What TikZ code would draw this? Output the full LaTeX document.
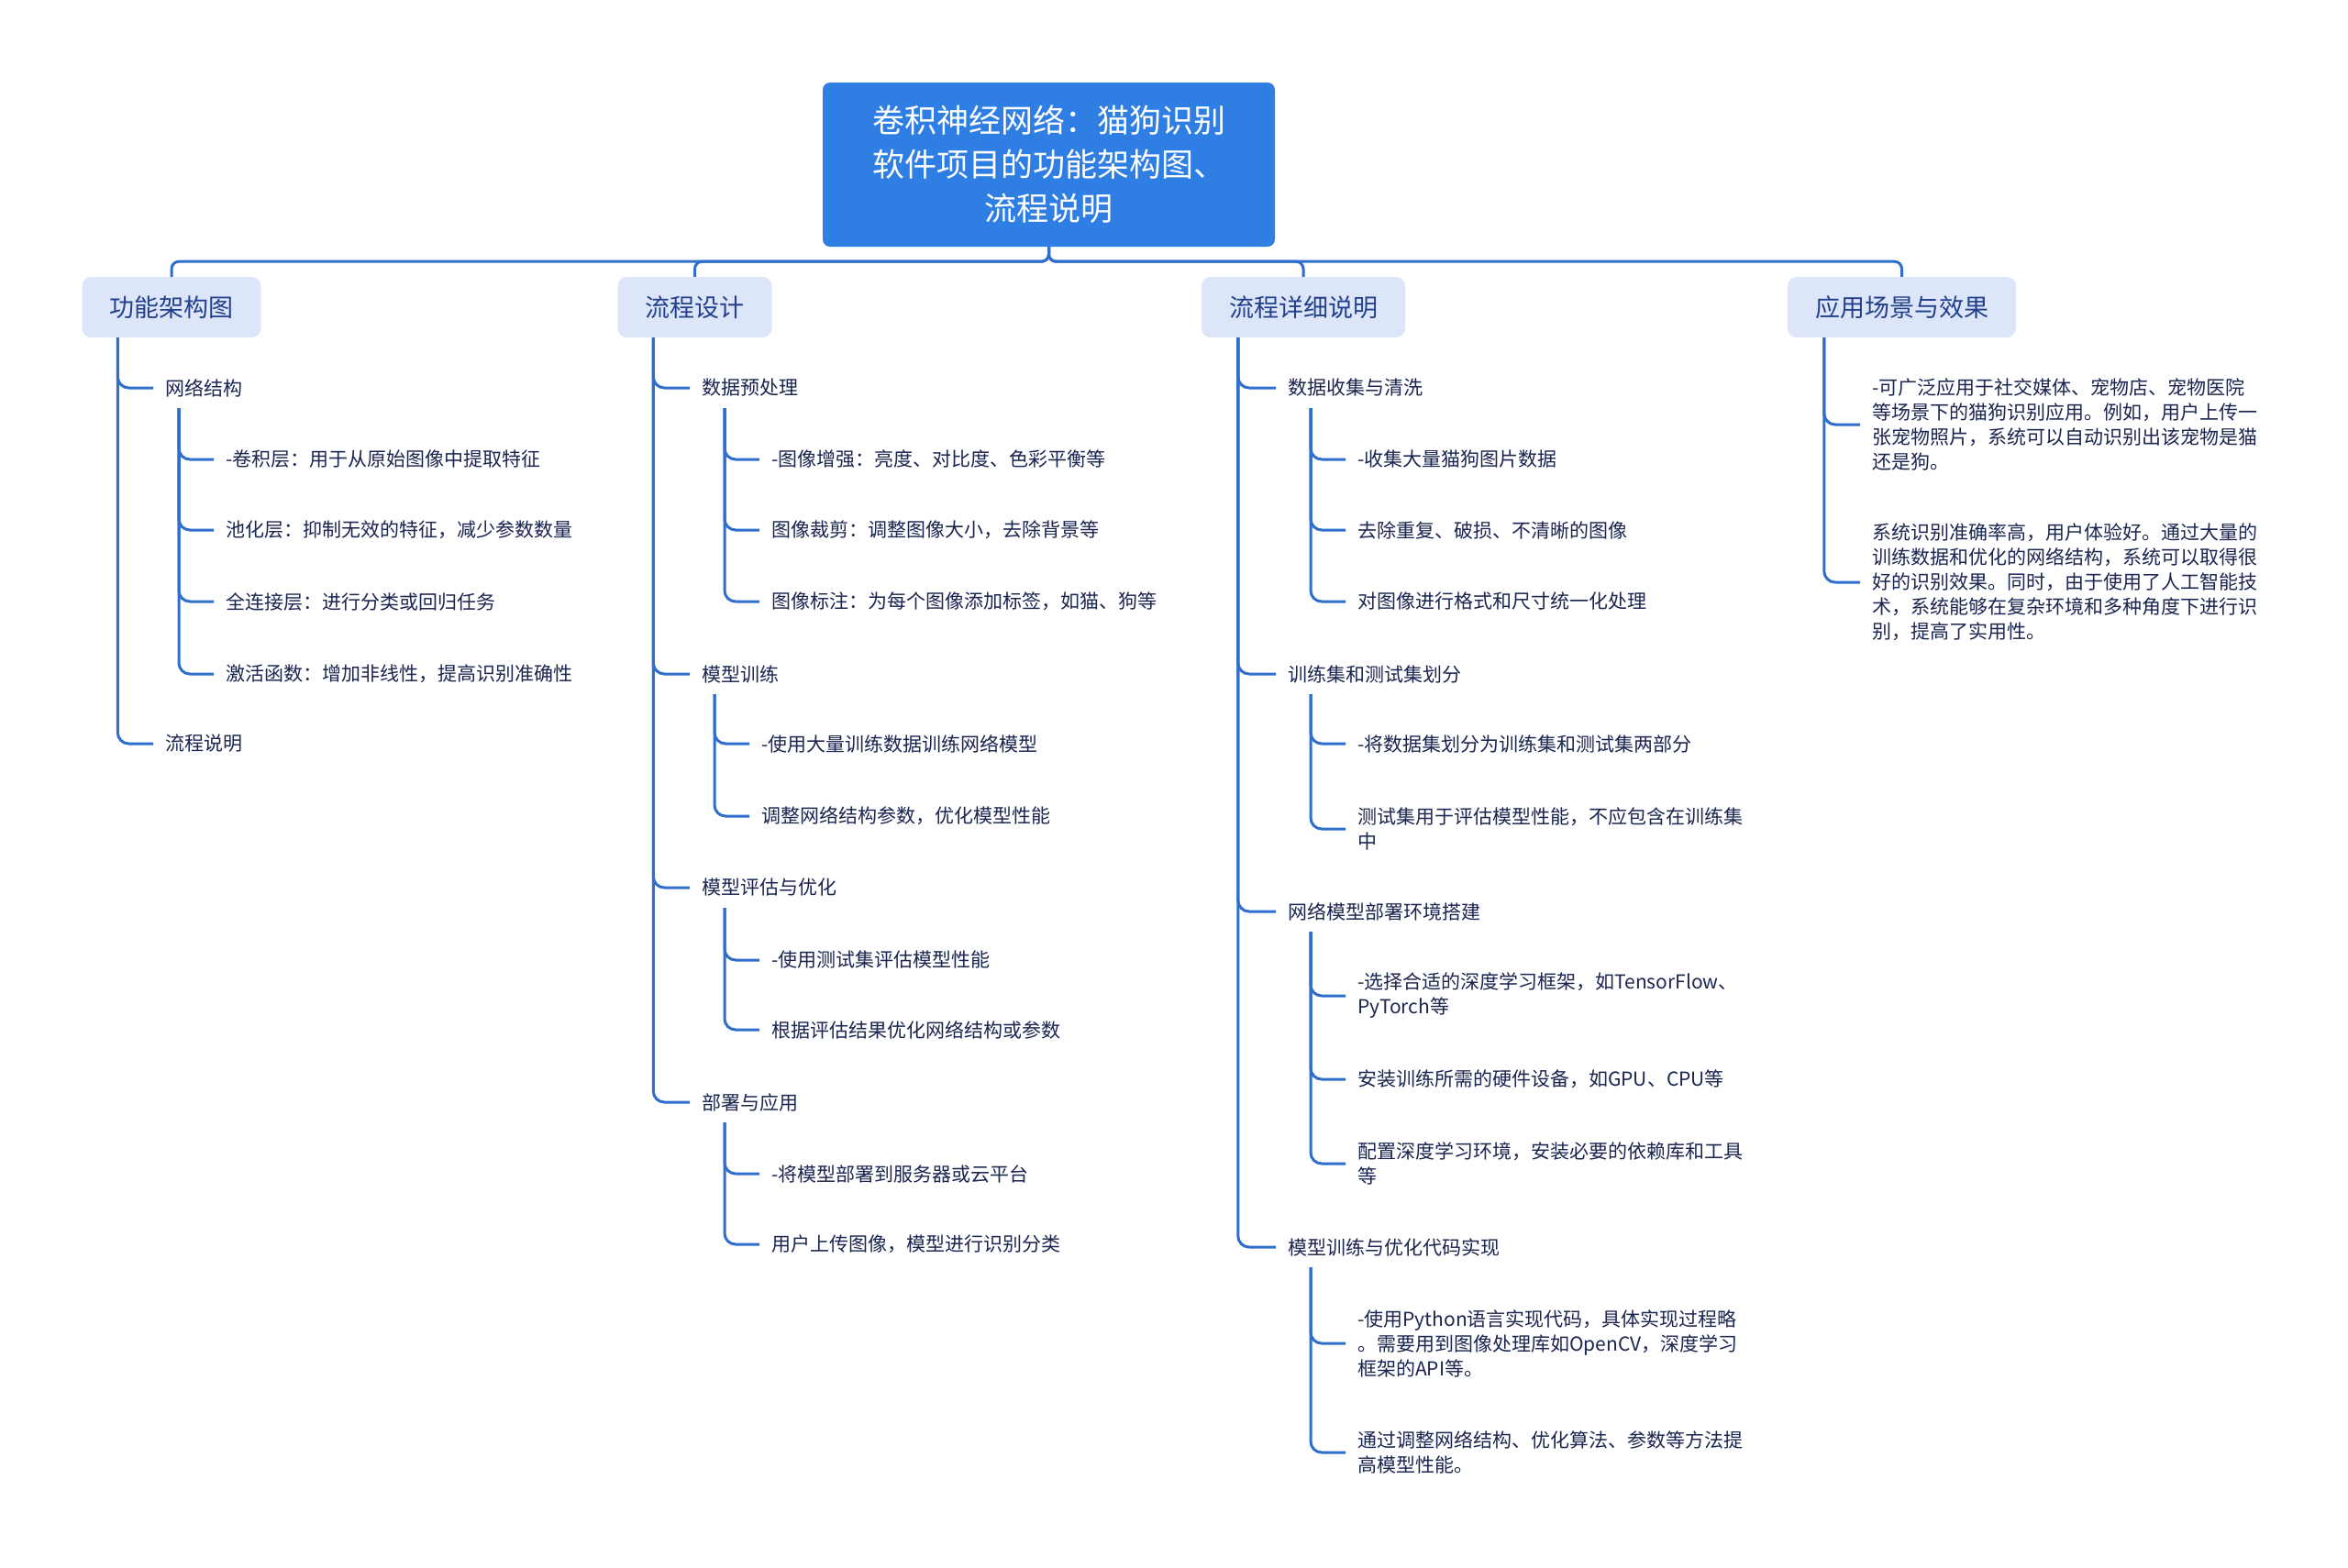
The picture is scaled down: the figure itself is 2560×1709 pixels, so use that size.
\documentclass[tikz,border=0pt]{standalone}
\usepackage{fontspec}
\setmainfont{Noto Sans CJK SC}
\usetikzlibrary{positioning,calc}

\definecolor{rootblue}{HTML}{2F7EE3}
\definecolor{linkblue}{HTML}{2F6ECB}
\definecolor{headfill}{HTML}{DDE6F8}
\definecolor{headtext}{HTML}{22408C}
\definecolor{itemtext}{HTML}{1A2550}

\begin{document}
\begin{tikzpicture}[
  x=1pt, y=-1pt,
  root/.style={fill=rootblue, rounded corners=8pt, minimum width=493pt, minimum height=179pt,
    align=center, text=white, font=\fontsize{35pt}{48pt}\selectfont},
  head/.style={fill=headfill, rounded corners=10pt, minimum height=66pt, inner xsep=30pt,
    text=headtext, font=\fontsize{27pt}{32pt}\selectfont},
  item/.style={anchor=west, inner xsep=13pt, inner ysep=2pt, align=left, text=itemtext,
    font=\fontsize{21pt}{27pt}\selectfont},
  link/.style={draw=linkblue, line width=3pt, rounded corners=12pt},
  bus/.style={draw=linkblue, line width=3pt, rounded corners=8pt}
]
  \useasboundingbox[fill=white] (0,0) rectangle (2560,1709);

  % root and first level
  \node[root] (root) at (1143.5,179.5)
      {卷积神经网络：猫狗识别\\软件项目的功能架构图、\\流程说明};
  \node[head] (A) at (187,335)    {功能架构图};
  \node[head] (B) at (757.5,335)  {流程设计};
  \node[head] (C) at (1421,335)   {流程详细说明};
  \node[head] (D) at (2073.5,335) {应用场景与效果};

  \foreach \h in {A,B,C,D}
    \draw[bus] (root.south) -- ++(0,16) -| (\h.north);

  \coordinate (Atr) at ([xshift=39pt]A.south west);
  \coordinate (Btr) at ([xshift=39pt]B.south west);
  \coordinate (Ctr) at ([xshift=40pt]C.south west);
  \coordinate (Dtr) at ([xshift=40pt]D.south west);

  % 功能架构图
  \node[item] (a1) at (167,423) {网络结构};
  \node[item] (a2) at (167,811) {流程说明};
  \coordinate (a1t) at (195,445);
  \node[item] (a11) at (233,501) {-卷积层：用于从原始图像中提取特征};
  \node[item] (a12) at (233,578) {池化层：抑制无效的特征，减少参数数量};
  \node[item] (a13) at (233,656) {全连接层：进行分类或回归任务};
  \node[item] (a14) at (233,735) {激活函数：增加非线性，提高识别准确性};

  \foreach \n in {a1,a2} \draw[link] (Atr) |- (\n.west);
  \foreach \n in {a11,a12,a13,a14} \draw[link] (a1t) |- (\n.west);

  % 流程设计
  \node[item] (b1) at (752,423)  {数据预处理};
  \node[item] (b2) at (752,735)  {模型训练};
  \node[item] (b3) at (752,968)  {模型评估与优化};
  \node[item] (b4) at (752,1202) {部署与应用};
  \coordinate (b1t) at (790,445);
  \coordinate (b2t) at (779,757);
  \coordinate (b3t) at (790,990);
  \coordinate (b4t) at (790,1224);
  \node[item] (b11) at (828,501)  {-图像增强：亮度、对比度、色彩平衡等};
  \node[item] (b12) at (828,578)  {图像裁剪：调整图像大小，去除背景等};
  \node[item] (b13) at (828,656)  {图像标注：为每个图像添加标签，如猫、狗等};
  \node[item] (b21) at (817,811)  {-使用大量训练数据训练网络模型};
  \node[item] (b22) at (817,890)  {调整网络结构参数，优化模型性能};
  \node[item] (b31) at (828,1047) {-使用测试集评估模型性能};
  \node[item] (b32) at (828,1123) {根据评估结果优化网络结构或参数};
  \node[item] (b41) at (828,1280) {-将模型部署到服务器或云平台};
  \node[item] (b42) at (828,1357) {用户上传图像，模型进行识别分类};

  \foreach \n in {b1,b2,b3,b4} \draw[link] (Btr) |- (\n.west);
  \foreach \n in {b11,b12,b13} \draw[link] (b1t) |- (\n.west);
  \foreach \n in {b21,b22} \draw[link] (b2t) |- (\n.west);
  \foreach \n in {b31,b32} \draw[link] (b3t) |- (\n.west);
  \foreach \n in {b41,b42} \draw[link] (b4t) |- (\n.west);

  % 流程详细说明
  \node[item] (c1) at (1391,423)  {数据收集与清洗};
  \node[item] (c2) at (1391,735)  {训练集和测试集划分};
  \node[item] (c3) at (1391,994)  {网络模型部署环境搭建};
  \node[item] (c4) at (1391,1360) {模型训练与优化代码实现};
  \coordinate (c1t) at (1429,445);
  \coordinate (c2t) at (1429,757);
  \coordinate (c3t) at (1429,1016);
  \coordinate (c4t) at (1429,1382);
  \node[item] (c11) at (1467,501)  {-收集大量猫狗图片数据};
  \node[item] (c12) at (1467,578)  {去除重复、破损、不清晰的图像};
  \node[item] (c13) at (1467,656)  {对图像进行格式和尺寸统一化处理};
  \node[item] (c21) at (1467,811)  {-将数据集划分为训练集和测试集两部分};
  \node[item] (c22) at (1467,904)  {测试集用于评估模型性能，不应包含在训练集\\中};
  \node[item] (c31) at (1467,1086) {-选择合适的深度学习框架，如TensorFlow、\\PyTorch等};
  \node[item] (c32) at (1467,1177) {安装训练所需的硬件设备，如GPU、CPU等};
  \node[item] (c33) at (1467,1269) {配置深度学习环境，安装必要的依赖库和工具\\等};
  \node[item] (c41) at (1467,1465)
      {-使用Python语言实现代码，具体实现过程略\\。需要用到图像处理库如OpenCV，深度学习\\框架的API等。};
  \node[item] (c42) at (1467,1584) {通过调整网络结构、优化算法、参数等方法提\\高模型性能。};

  \foreach \n in {c1,c2,c3,c4} \draw[link] (Ctr) |- (\n.west);
  \foreach \n in {c11,c12,c13} \draw[link] (c1t) |- (\n.west);
  \foreach \n in {c21,c22} \draw[link] (c2t) |- (\n.west);
  \foreach \n in {c31,c32,c33} \draw[link] (c3t) |- (\n.west);
  \foreach \n in {c41,c42} \draw[link] (c4t) |- (\n.west);

  % 应用场景与效果
  \node[item] (d1) at (2028,463)
      {-可广泛应用于社交媒体、宠物店、宠物医院\\等场景下的猫狗识别应用。例如，用户上传一\\张宠物照片，系统可以自动识别出该宠物是猫\\还是狗。};
  \node[item] (d2) at (2028,635)
      {系统识别准确率高，用户体验好。通过大量的\\训练数据和优化的网络结构，系统可以取得很\\好的识别效果。同时，由于使用了人工智能技\\术，系统能够在复杂环境和多种角度下进行识\\别，提高了实用性。};

  \foreach \n in {d1,d2} \draw[link] (Dtr) |- (\n.west);
\end{tikzpicture}
\end{document}
